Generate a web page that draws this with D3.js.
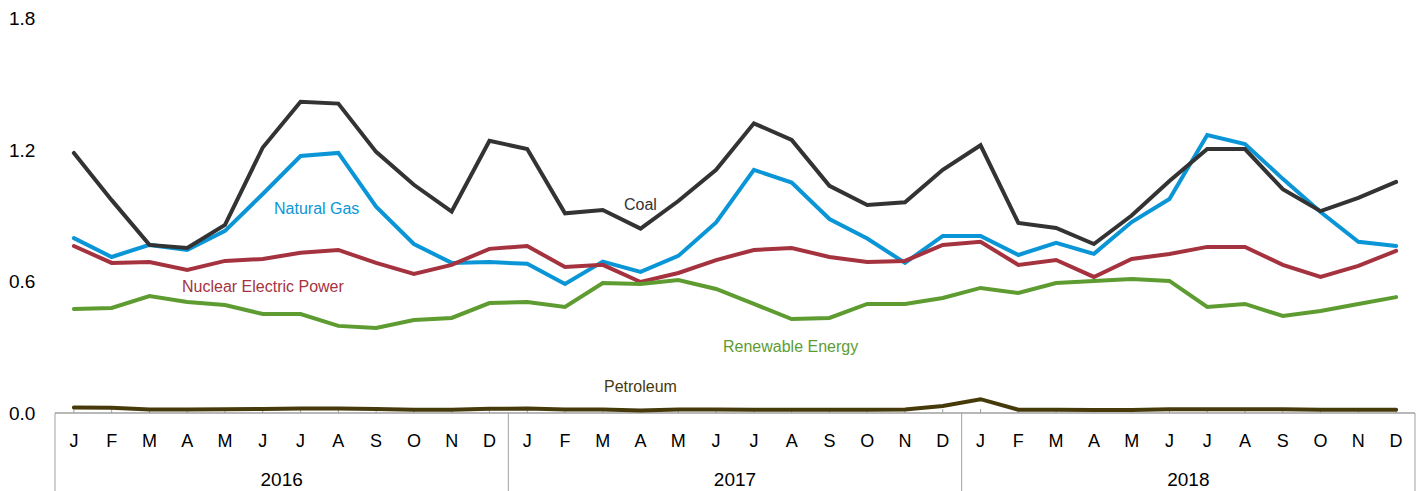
<!DOCTYPE html>
<html><head><meta charset="utf-8">
<script src="https://cdn.jsdelivr.net/npm/d3@7"></script>
<style>body{margin:0;background:#fff;}svg{display:block;font-family:"Liberation Sans",Arial,sans-serif;}</style>
</head><body><svg id="c" width="1419" height="491"></svg>
<script>
const years = ["2016","2017","2018"];
const monthLetters = ["J","F","M","A","M","J","J","A","S","O","N","D"];
const yTicks = [0.0, 0.6, 1.2, 1.8];
const coal = [1.185,0.97,0.766,0.752,0.857,1.21,1.418,1.41,1.19,1.04,0.918,1.24,
  1.203,0.91,0.925,0.84,0.966,1.108,1.32,1.244,1.035,0.948,0.96,1.108,
  1.22,0.866,0.843,0.77,0.90,1.057,1.203,1.203,1.02,0.92,0.98,1.053];
const naturalGas = [0.797,0.711,0.766,0.743,0.83,0.998,1.171,1.185,0.94,0.77,0.684,0.688,
  0.68,0.588,0.69,0.643,0.716,0.868,1.108,1.05,0.884,0.795,0.684,0.807,
  0.807,0.72,0.775,0.725,0.87,0.975,1.267,1.226,1.067,0.916,0.78,0.761];
const nuclear = [0.761,0.684,0.688,0.652,0.693,0.702,0.73,0.743,0.684,0.634,0.675,0.748,
  0.761,0.665,0.675,0.597,0.638,0.697,0.743,0.752,0.711,0.688,0.693,0.766,
  0.78,0.675,0.697,0.62,0.702,0.725,0.757,0.757,0.675,0.62,0.67,0.739];
const renewable = [0.474,0.479,0.533,0.506,0.492,0.451,0.451,0.397,0.387,0.424,0.433,0.501,
  0.506,0.483,0.592,0.588,0.606,0.565,0.497,0.428,0.433,0.497,0.497,0.524,
  0.57,0.547,0.592,0.602,0.611,0.602,0.483,0.497,0.442,0.465,0.497,0.528];
const petroleum = [0.025,0.024,0.016,0.016,0.017,0.018,0.021,0.021,0.018,0.015,0.015,0.019,
  0.02,0.016,0.016,0.011,0.016,0.016,0.015,0.015,0.015,0.015,0.016,0.032,
  0.063,0.015,0.015,0.014,0.014,0.017,0.017,0.017,0.017,0.015,0.015,0.015];

const series = [
  {name:"Natural Gas", values:naturalGas, color:"#0a96d6", lx:274, ly:214},
  {name:"Nuclear Electric Power", values:nuclear, color:"#a5333f", lx:182, ly:292},
  {name:"Renewable Energy", values:renewable, color:"#5e9c32", lx:723, ly:352},
  {name:"Coal", values:coal, color:"#333333", lx:624, ly:210},
  {name:"Petroleum", values:petroleum, color:"#463a0b", lx:604, ly:392}
];

const svg = d3.select("#c");
const left = 55, right = 1415, y0 = 413, yTop = 18;
const cats = d3.range(36);
const x = d3.scaleBand().domain(cats).range([left, right]);
const y = d3.scaleLinear().domain([0, 1.8]).range([y0, yTop]);

// y tick labels
svg.append("g").selectAll("text").data(yTicks).join("text")
  .attr("x", 9).attr("y", d => y(d)).attr("dy", "0.36em")
  .attr("font-size", 19).attr("fill", "#000")
  .text(d => d.toFixed(1));

// x axis
const ax = svg.append("g").attr("transform", `translate(0,${y0})`);
ax.append("line").attr("x1", left).attr("x2", right).attr("stroke", "#a0a0a0").attr("stroke-width", 1.5);
ax.selectAll(".tk").data(cats).join("line")
  .attr("x1", d => x(d) + x.bandwidth()/2).attr("x2", d => x(d) + x.bandwidth()/2)
  .attr("y1", 0).attr("y2", -4).attr("stroke", "#a0a0a0");
ax.selectAll(".ml").data(cats).join("text")
  .attr("x", d => x(d) + x.bandwidth()/2).attr("y", 34)
  .attr("text-anchor", "middle").attr("font-size", 18).attr("fill", "#000")
  .text(d => monthLetters[d % 12]);
const seps = [0, 12, 24, 36];
ax.selectAll(".sep").data(seps).join("line")
  .attr("x1", d => d === 36 ? right : x(d)).attr("x2", d => d === 36 ? right : x(d))
  .attr("y1", 0).attr("y2", 78).attr("stroke", "#a0a0a0").attr("stroke-width", 1);
ax.selectAll(".yl").data(years).join("text")
  .attr("x", (d,i) => (x(i*12) + (i===2 ? right : x(i*12+12))) / 2).attr("y", 73)
  .attr("text-anchor", "middle").attr("font-size", 19).attr("fill", "#000")
  .text(d => d);

const line = d3.line().x((d,i) => x(i) + x.bandwidth()/2).y(d => y(d));
svg.append("g").selectAll("path").data(series).join("path")
  .attr("d", d => line(d.values)).attr("fill", "none")
  .attr("stroke", d => d.color).attr("stroke-width", 4).attr("stroke-linejoin", "miter").attr("stroke-linecap", "round");

svg.append("g").selectAll("text").data(series).join("text")
  .attr("x", d => d.lx).attr("y", d => d.ly)
  .attr("font-size", 16).attr("fill", d => d.color).text(d => d.name);
</script></body></html>
